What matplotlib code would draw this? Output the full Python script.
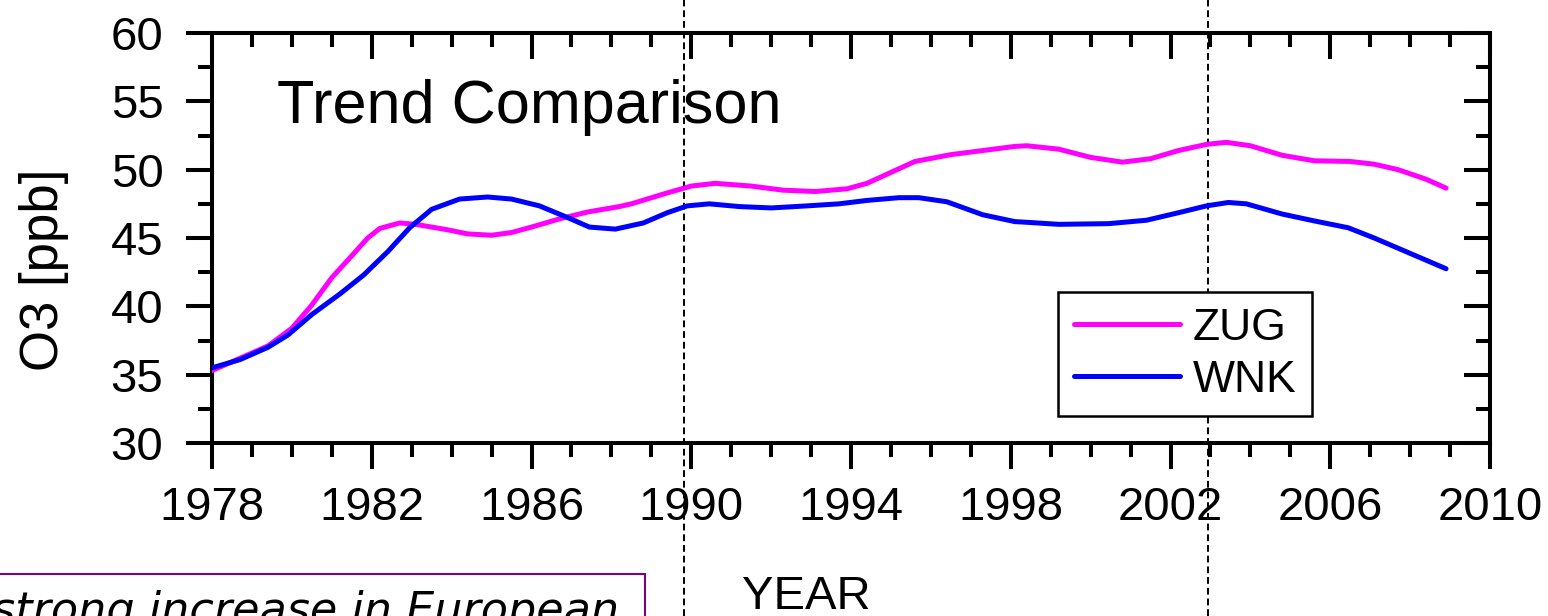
import numpy as np
import matplotlib
matplotlib.use('Agg')
import matplotlib.pyplot as plt
from matplotlib.patches import Rectangle
from matplotlib.transforms import blended_transform_factory
from matplotlib.ticker import FixedLocator, MultipleLocator

plt.rcParams['font.family'] = ['Liberation Sans', 'DejaVu Sans']

# smoothed O3 trends [ppb]
zug_year = [1978.0, 1978.7, 1979.4, 1980.0, 1980.5, 1981.0, 1981.5, 1981.9, 1982.2,
            1982.7, 1983.1, 1983.9, 1984.4, 1985.0, 1985.5, 1986.0, 1986.7, 1987.4,
            1988.2, 1988.5, 1989.4, 1990.0, 1990.6, 1991.5, 1992.3, 1993.1, 1993.9,
            1994.4, 1995.0, 1995.6, 1996.5, 1997.3, 1998.1, 1998.4, 1999.2, 2000.0,
            2000.8, 2001.5, 2002.2, 2002.9, 2003.4, 2004.0, 2004.8, 2005.6, 2006.5,
            2007.1, 2007.7, 2008.4, 2008.9]
zug_o3 = [35.3, 36.2, 37.1, 38.4, 40.1, 42.1, 43.7, 45.0, 45.7,
          46.1, 46.0, 45.6, 45.3, 45.2, 45.4, 45.8, 46.4, 46.9,
          47.3, 47.5, 48.3, 48.8, 49.0, 48.8, 48.5, 48.4, 48.6,
          49.0, 49.8, 50.6, 51.1, 51.4, 51.7, 51.75, 51.5, 50.9,
          50.55, 50.8, 51.4, 51.85, 52.0, 51.75, 51.05, 50.65, 50.6,
          50.4, 50.0, 49.3, 48.65]

wnk_year = [1978.0, 1978.7, 1979.4, 1979.9, 1980.5, 1981.2, 1981.8, 1982.4, 1982.95,
            1983.5, 1984.2, 1984.9, 1985.5, 1986.2, 1986.9, 1987.45, 1988.1, 1988.8,
            1989.4, 1989.9, 1990.45, 1991.2, 1992.0, 1992.9, 1993.7, 1994.4, 1995.2,
            1995.7, 1996.4, 1997.3, 1998.1, 1998.4, 1999.2, 2000.45, 2001.4, 2002.2,
            2002.9, 2003.45, 2003.9, 2004.8, 2005.6, 2006.45, 2007.1, 2007.9, 2008.9]
wnk_o3 = [35.5, 36.1, 37.0, 37.9, 39.4, 40.9, 42.3, 44.0, 45.75,
          47.1, 47.85, 48.0, 47.85, 47.35, 46.5, 45.8, 45.65, 46.1,
          46.85, 47.35, 47.5, 47.3, 47.2, 47.35, 47.5, 47.75, 47.95,
          47.95, 47.65, 46.7, 46.2, 46.15, 46.0, 46.05, 46.3, 46.85,
          47.35, 47.6, 47.5, 46.75, 46.25, 45.75, 45.0, 44.0, 42.75]

x_ticks = [1978, 1982, 1986, 1990, 1994, 1998, 2002, 2006, 2010]

# reference years marked by vertical dashed lines
marker_years = [1989.83, 2002.93]

W, H = 1548, 616
fig = plt.figure(figsize=(W / 100, H / 100), dpi=100)
ax = fig.add_axes([212 / W, 1 - 443 / H, 1278 / W, 410 / H])

ax.plot(zug_year, zug_o3, color='#ff00ff', lw=3.6, label='ZUG', zorder=3,
        solid_capstyle='round', solid_joinstyle='round')
ax.plot(wnk_year, wnk_o3, color='#0000ff', lw=3.6, label='WNK', zorder=3,
        solid_capstyle='round', solid_joinstyle='round')

ax.set_xlim(1978, 2010)
ax.set_ylim(30, 60)
ax.xaxis.set_major_locator(FixedLocator(x_ticks))
ax.xaxis.set_minor_locator(MultipleLocator(1))
ax.yaxis.set_major_locator(MultipleLocator(5))
ax.yaxis.set_minor_locator(MultipleLocator(2.5))

for s in ax.spines.values():
    s.set_linewidth(2.9)

ax.tick_params(which='both', width=2.9, top=True, right=True, labelsize=34)
ax.tick_params(axis='x', which='both', direction='out', pad=12)
ax.tick_params(axis='y', which='both', direction='out', pad=16)
ax.tick_params(which='major', length=19)
ax.tick_params(which='minor', length=10)
# mirrored top/right ticks point the same way as bottom/left
for t in ax.xaxis.get_major_ticks() + ax.xaxis.get_minor_ticks():
    t.tick2line.set_marker(3)
for t in ax.yaxis.get_major_ticks() + ax.yaxis.get_minor_ticks():
    t.tick2line.set_marker(0)

ax.text(0.051, 0.78, 'Trend Comparison', transform=ax.transAxes, fontsize=44)

leg = ax.legend(loc='upper left', bbox_to_anchor=(0.662, 0.368), fontsize=32,
                frameon=True, fancybox=False, edgecolor='black', framealpha=1,
                borderaxespad=0, borderpad=0.35, handlelength=2.4,
                handletextpad=0.28, labelspacing=0.25)
leg.get_frame().set_linewidth(1.8)
leg.set_zorder(5)

# dashed markers run over the whole figure height
trans = blended_transform_factory(ax.transData, fig.transFigure)
for yr in marker_years:
    ax.plot([yr, yr], [0, 1], transform=trans, clip_on=False, color='black',
            lw=1.4, dashes=(3.5, 2), zorder=2)

fig.text(44 / W, 1 - 270 / H, 'O3 [ppb]', rotation=90, fontsize=38,
         ha='center', va='center')
fig.text(806 / W, 1 - 597 / H, 'YEAR', fontsize=34, ha='center', va='center')

# note box, cut by the lower edge
fig.add_artist(Rectangle((-10 / W, -0.2), 655 / W, 0.2 + (616 - 574) / H,
                         transform=fig.transFigure, fill=False,
                         edgecolor='#800080', lw=1.5))
fig.text(-8 / W, 1 - 624 / H, 'strong increase in European', fontsize=32,
         style='italic', family='DejaVu Sans')

fig.savefig('out.png', dpi=100)
